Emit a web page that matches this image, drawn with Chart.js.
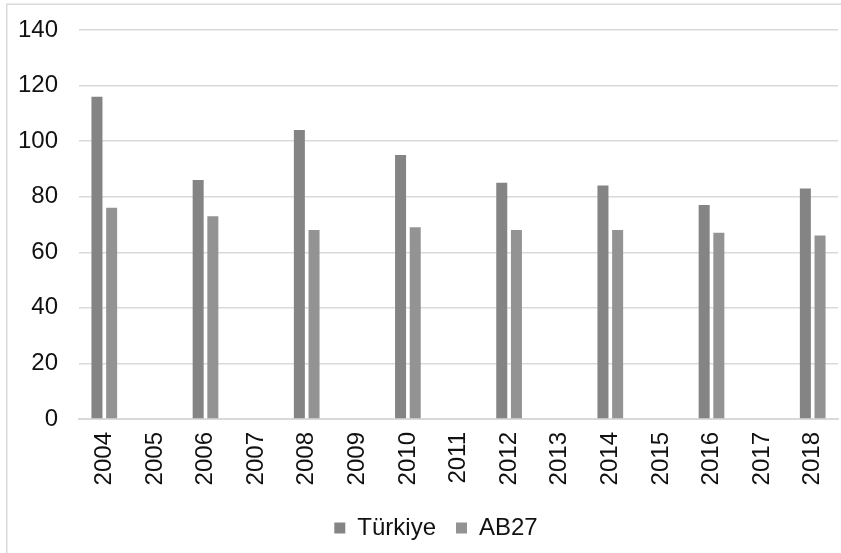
<!DOCTYPE html>
<html>
<head>
<meta charset="utf-8">
<script src="https://cdn.jsdelivr.net/npm/chart.js@4/dist/chart.umd.min.js"></script>
<style>
  html, body { margin: 0; padding: 0; background: #fff; }
  #wrap { width: 841px; height: 553px; position: relative; }
</style>
</head>
<body>
<div id="wrap"><canvas id="myChart" width="841" height="553"></canvas></div>
<script>
// Years on the x axis, only even years carry values
const years = ['2004', '2005', '2006', '2007', '2008', '2009', '2010', '2011',
               '2012', '2013', '2014', '2015', '2016', '2017', '2018'];
const turkiye = [116, null, 86, null, 104, null, 95, null, 85, null, 84, null, 77, null, 83];
const ab27    = [76, null, 73, null, 68, null, 69, null, 68, null, 68, null, 67, null, 66];
const yTicks  = [0, 20, 40, 60, 80, 100, 120, 140];

const textColor = '#111111';
const gridColor = '#d9d9d9';
const fontFamily = '"Liberation Sans", Arial, sans-serif';

// Light frame around the whole chart (only top and left edges fall inside the canvas)
const framePlugin = {
    id: 'frame',
    beforeDraw(chart) {
        const ctx = chart.ctx;
        ctx.save();
        ctx.fillStyle = '#ffffff';
        ctx.fillRect(0, 0, chart.width, chart.height);
        ctx.strokeStyle = gridColor;
        ctx.lineWidth = 1.5;
        ctx.beginPath();
        ctx.moveTo(6.75, chart.height + 5);
        ctx.lineTo(6.75, 4.25);
        ctx.lineTo(chart.width + 5, 4.25);
        ctx.stroke();
        ctx.restore();
    }
};

// Move the legend a bit to the right of the canvas centre
const legendShift = {
    id: 'legendShift',
    afterLayout(chart) {
        if (chart.legend) {
            chart.legend.left += 17;
            chart.legend.right += 17;
        }
    }
};

function initializeChart() {
    const ctx = document.getElementById('myChart').getContext('2d');
    return new Chart(ctx, {
        type: 'bar',
        data: {
            labels: years,
            datasets: [{
                label: 'Türkiye',
                data: turkiye,
                backgroundColor: '#848484',
                borderWidth: 0,
                categoryPercentage: 0.58,
                barPercentage: 0.75
            }, {
                label: 'AB27',
                data: ab27,
                backgroundColor: '#939393',
                borderWidth: 0,
                categoryPercentage: 0.58,
                barPercentage: 0.75
            }]
        },
        options: {
            responsive: false,
            animation: false,
            devicePixelRatio: 1,
            layout: {
                padding: { top: 30, right: 3, bottom: 3, left: 0 }
            },
            plugins: {
                legend: {
                    position: 'bottom',
                    labels: {
                        color: textColor,
                        font: { family: fontFamily, size: 24 },
                        boxWidth: 11,
                        boxHeight: 11,
                        padding: 20
                    }
                },
                tooltip: { enabled: false }
            },
            scales: {
                x: {
                    afterFit(scale) {
                        // keep the plot edges fixed regardless of rotated label overflow
                        scale.paddingLeft = 0;
                        scale.paddingRight = 0;
                        scale.height = 77;
                    },
                    grid: { display: false, drawTicks: false },
                    border: { color: gridColor, width: 2 },
                    ticks: {
                        color: textColor,
                        font: { family: fontFamily, size: 24 },
                        minRotation: 90,
                        maxRotation: 90,
                        autoSkip: false,
                        padding: 13
                    }
                },
                y: {
                    min: 0,
                    max: 140,
                    afterFit(scale) {
                        scale.width = 79;
                        scale.paddingTop = 0;
                        scale.paddingBottom = 0;
                    },
                    afterBuildTicks(scale) { scale.ticks = yTicks.map(v => ({ value: v })); },
                    grid: { color: gridColor, lineWidth: 1.5, drawTicks: false },
                    border: { display: false },
                    ticks: {
                        color: textColor,
                        font: { family: fontFamily, size: 24 },
                        padding: 21
                    }
                }
            }
        },
        plugins: [framePlugin, legendShift]
    });
}

initializeChart();
</script>
</body>
</html>
